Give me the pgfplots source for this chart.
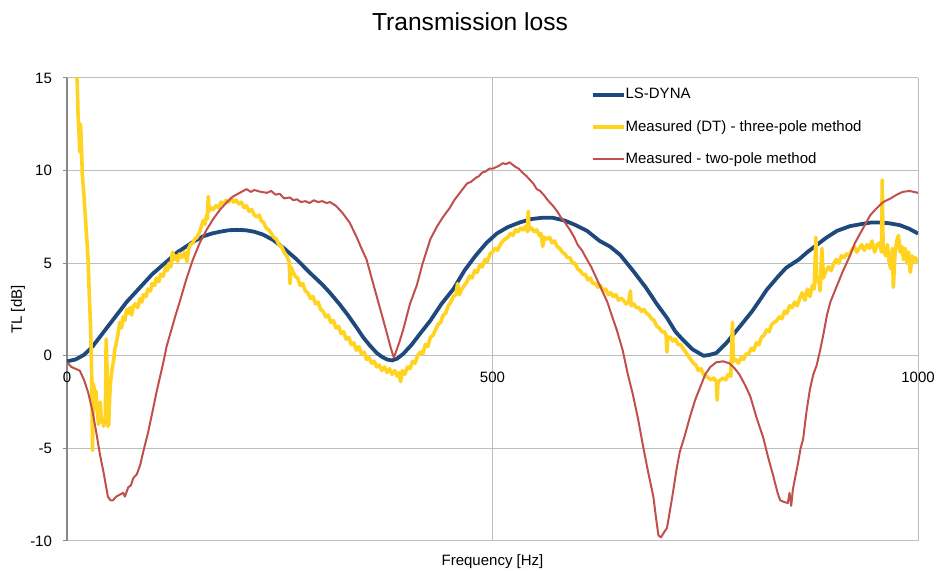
\documentclass[border=0pt]{standalone}
\usepackage{pgfplots}
\pgfplotsset{compat=1.18}
\usepackage{fontspec}
\setmainfont{Liberation Sans}
\definecolor{cblue}{HTML}{1F497D}
\definecolor{cyellow}{HTML}{FFD320}
\definecolor{cred}{HTML}{C0504D}
\definecolor{cgrid}{HTML}{BEBEBE}
\definecolor{caxis}{HTML}{888888}
\begin{document}
\begin{tikzpicture}
\path[use as bounding box] (-33.5pt,-15pt) rectangle (434.5pt,270.5pt);
\begin{axis}[
  at={(0pt,0pt)}, anchor=south west,
  scale only axis, width=425.5pt, height=231.5pt,
  xmin=0, xmax=1000, ymin=-10, ymax=15,
  xtick={0,500,1000}, ytick={-10,-5,0,5,10,15},
  axis x line=middle, axis y line=left,
  every inner x axis line/.append style={-},
  every outer y axis line/.append style={-},
  hide obscured x ticks=false, hide obscured y ticks=false,
  x axis line style={draw=cgrid, line width=0.5pt},
  y axis line style={draw=caxis, line width=0.6pt},
  grid=major, grid style={draw=cgrid, line width=0.5pt},
  xtick style={draw=none},
  ytick style={draw=caxis, line width=0.5pt},
  tick align=outside, major tick length=2pt,
  /pgf/number format/assume math mode=true,
  /pgf/number format/1000 sep={},
  ticklabel style={font=\fontsize{7.5}{9}\selectfont},
  xticklabel style={anchor=north, yshift=-2.5pt},
  yticklabel style={anchor=east, xshift=-2pt},
  title={Transmission loss},
  title style={font=\fontsize{12.3}{14}\selectfont, at={(0.4736,1)}, anchor=center, yshift=22pt},
  xlabel={Frequency [Hz]},
  xlabel style={font=\fontsize{7.5}{9}\selectfont, at={(axis description cs:0.5,0)}, anchor=center, yshift=-10.5pt},
  ylabel={TL [dB]},
  ylabel style={font=\fontsize{7.5}{9}\selectfont, at={(axis description cs:-0.0576,0.5)}, anchor=center},
  legend style={at={(0.615,0.985)}, anchor=north west, draw=none, fill=white,
    font=\fontsize{7.5}{9}\selectfont, row sep=8.2pt, inner xsep=0pt, inner ysep=1pt,
    nodes={inner xsep=0pt, inner ysep=0.5pt}},
  legend cell align=left,
  legend image code/.code={\draw[#1] (0pt,0pt) -- (15.5pt,0pt);},
  line join=round,
]
\addplot[cblue, line width=1.9pt] coordinates {
(0,-0.3) (10,-0.2) (20,0.05) (30,0.5) (40,1.1) (50,1.7) (60,2.3) (70,2.9) (80,3.4) (90,3.9)
(100,4.4) (110,4.8) (120,5.2) (130,5.6) (140,5.9) (150,6.2) (160,6.45) (170,6.6) (180,6.7) (190,6.78)
(200,6.8) (210,6.78) (220,6.7) (230,6.55) (242,6.26) (255,5.8) (270,5.2) (285,4.5) (300,3.85) (309,3.4)
(320,2.8) (330,2.2) (340,1.55) (348,1.0) (356,0.55) (364,0.15) (370,-0.05) (376,-0.2) (382,-0.25) (388,-0.15)
(395,0.1) (405,0.6) (415,1.2) (427,1.9) (440,2.8) (454,3.6) (467,4.6) (480,5.4) (493,6.1) (505,6.6)
(518,6.95) (532,7.2) (545,7.38) (558,7.45) (571,7.45) (585,7.3) (598,7.05) (611,6.75) (626,6.2) (638,5.9)
(650,5.45) (665,4.6) (680,3.7) (693,2.8) (705,2.05) (715,1.3) (724,0.85) (735,0.35) (748,0.0) (755,0.05)
(763,0.15) (775,0.7) (791,1.6) (805,2.4) (814,3.0) (822,3.55) (835,4.25) (845,4.75) (850,4.9) (860,5.2)
(870,5.6) (880,5.95) (893,6.4) (905,6.75) (920,7.0) (932,7.1) (945,7.2) (955,7.2) (967,7.15) (979,7.05)
(990,6.85) (1000,6.6)
};
\addlegendentry{LS-DYNA}
\addplot[cyellow, line width=1.8pt] coordinates {
(10,16) (12,14.8) (13,13.0) (14,12.2) (15,11.0) (16,12.5) (17,11.2) (18,9.8) (20,8.6) (22,7.2)
(24,5.8) (25,5.0) (26,3.5) (27,2.4) (28,1.0) (29,-1.0) (30,-5.1) (31,-1.5) (32,-1.8) (33,-2.2)
(34,-1.9) (35,-2.8) (36,-3.1) (37,-3.7) (38,-3.0) (39,-2.5) (40,-3.2) (41,-3.6) (42,-3.4) (43,-3.8)
(44,-3.5) (45,-3.6) (46,0.9) (47,-0.5) (48,-3.8) (49,-3.7) (50,-2.4) (51,-1.5) (52,-1.1) (53,-0.7)
(55,-0.2) (56,0.3) (58,0.7) (60,1.2) (62,1.8) (64,1.5) (66,2.1) (68,1.9) (70,2.5) (72,2.3)
(74,2.6) (76,2.2) (78,2.7) (80,2.8) (83,2.6) (86,3.1) (88,2.9) (90,3.3) (93,3.2) (95,3.6)
(98,3.5) (100,3.9) (103,3.8) (105,4.2) (108,4.0) (110,4.4) (113,4.3) (116,4.8) (118,4.6) (120,5.0)
(122,4.8) (124,5.6) (126,5.2) (128,5.4) (130,5.1) (132,5.5) (135,5.3) (138,5.6) (141,5.1) (143,5.8)
(145,6.0) (148,6.1) (150,6.3) (153,6.4) (156,6.7) (158,7.0) (160,7.3) (162,7.1) (164,7.6) (165,7.4)
(166,8.6) (167,7.8) (169,8.0) (172,7.9) (175,8.1) (178,8.0) (181,8.3) (184,8.2) (187,8.4) (190,8.3)
(193,8.5) (196,8.3) (199,8.4) (202,8.2) (205,8.3) (208,8.0) (211,8.1) (214,7.8) (217,7.9) (220,7.6)
(223,7.5) (226,7.6) (228,7.3) (231,7.2) (234,6.9) (237,6.8) (240,6.6) (243,6.4) (246,6.3) (249,6.0)
(252,5.9) (255,5.6) (258,5.4) (261,5.1) (262,3.9) (263,4.8) (265,4.6) (268,4.3) (271,4.2) (274,3.8)
(277,3.9) (280,3.5) (283,3.4) (286,3.1) (289,3.2) (292,2.8) (295,2.9) (298,2.5) (301,2.4) (304,2.1)
(307,2.2) (310,1.8) (313,1.9) (316,1.5) (319,1.6) (322,1.2) (325,1.3) (328,0.9) (331,1.0) (334,0.6)
(337,0.7) (340,0.3) (343,0.5) (346,0.1) (349,0.2) (352,-0.2) (355,-0.1) (358,-0.4) (361,-0.3) (364,-0.6)
(367,-0.5) (370,-0.8) (373,-0.6) (376,-0.9) (379,-0.7) (382,-1.0) (385,-0.8) (388,-1.1) (390,-0.9) (392,-1.4)
(394,-0.8) (397,-1.0) (400,-0.6) (403,-0.7) (406,-0.3) (409,-0.4) (412,0.0) (415,0.2) (418,0.1) (421,0.6)
(424,0.5) (427,1.0) (430,1.1) (433,1.4) (436,1.7) (439,1.8) (442,2.2) (445,2.3) (448,2.7) (451,2.9)
(454,3.2) (457,3.3) (459,3.9) (461,3.3) (464,3.6) (467,3.8) (470,4.0) (473,4.3) (476,4.2) (479,4.6)
(482,4.5) (485,4.9) (488,4.8) (491,5.2) (494,5.1) (497,5.5) (500,5.6) (503,5.8) (506,5.7) (509,6.0)
(512,6.2) (515,6.3) (518,6.4) (521,6.6) (524,6.5) (527,6.8) (530,6.7) (533,6.9) (536,6.8) (539,7.0)
(541,6.7) (542,7.8) (543,6.8) (546,6.9) (549,6.7) (552,6.8) (555,6.5) (557,6.6) (559,5.9) (561,6.4)
(564,6.3) (567,6.4) (570,6.1) (573,6.2) (576,5.9) (579,5.8) (582,5.6) (585,5.5) (588,5.3) (591,5.3)
(594,5.0) (597,5.0) (600,4.7) (603,4.6) (606,4.4) (609,4.4) (612,4.1) (615,4.2) (618,3.9) (621,3.9)
(624,3.7) (627,3.8) (630,3.5) (633,3.6) (636,3.3) (639,3.4) (642,3.2) (645,3.3) (648,3.0) (651,3.1)
(654,3.0) (657,2.8) (660,2.9) (662,3.5) (663,2.7) (666,2.8) (669,2.6) (672,2.6) (675,2.4) (678,2.5)
(681,2.3) (684,2.2) (687,2.0) (690,1.9) (693,1.6) (696,1.5) (699,1.3) (702,1.3) (704,1.1) (705,0.2)
(706,1.0) (709,1.0) (712,0.8) (715,0.9) (718,0.6) (721,0.6) (724,0.4) (727,0.2) (730,0.0) (733,-0.2)
(736,-0.4) (739,-0.5) (742,-0.8) (745,-0.7) (748,-1.0) (751,-1.1) (754,-1.2) (757,-1.3) (760,-1.2) (763,-1.4)
(764,-2.4) (765,-1.4) (768,-1.3) (771,-1.2) (774,-1.3) (777,-1.0) (780,-1.1) (782,1.8) (783,-0.3) (786,-0.2)
(789,-0.4) (792,-0.1) (795,-0.2) (798,0.1) (801,0.1) (804,0.4) (807,0.3) (810,0.7) (813,0.6) (816,1.0)
(819,1.1) (822,1.4) (825,1.3) (828,1.7) (831,1.8) (834,1.9) (837,2.1) (840,2.0) (843,2.4) (846,2.3)
(849,2.7) (852,2.6) (855,2.9) (858,2.7) (861,3.1) (864,3.4) (867,3.0) (870,3.6) (873,3.2) (876,3.8)
(878,3.6) (880,6.4) (881,4.0) (883,4.2) (885,3.5) (887,5.8) (889,4.2) (892,4.6) (895,4.8) (898,4.6)
(901,5.0) (904,5.2) (907,5.0) (910,5.4) (913,5.3) (916,5.5) (919,5.4) (922,5.7) (925,5.9) (928,5.6)
(931,5.8) (934,6.0) (937,5.7) (940,6.0) (943,5.8) (946,6.2) (949,5.6) (952,6.0) (955,6.1) (957,5.6)
(958,9.5) (959,5.8) (962,5.4) (964,6.0) (966,5.1) (968,4.7) (970,5.8) (971,3.7) (973,5.5) (975,6.2)
(977,6.5) (979,5.6) (981,5.9) (983,5.2) (985,5.8) (987,5.0) (989,5.6) (991,4.5) (993,5.4) (995,5.1)
(997,5.3) (1000,5.0)
};
\addlegendentry{Measured (DT) - three-pole method}
\addplot[cred, line width=1.0pt] coordinates {
(0,-0.35) (5,-0.6) (10,-0.7) (15,-0.8) (20,-1.3) (25,-2.0) (30,-3.0) (35,-4.3) (39,-5.4) (43,-6.3)
(48,-7.6) (51,-7.8) (54,-7.8) (58,-7.6) (62,-7.5) (66,-7.4) (68,-7.6) (72,-7.1) (75,-7.0) (78,-6.6)
(82,-6.4) (86,-5.9) (90,-5.1) (95,-4.2) (101,-2.9) (105,-2.0) (108,-1.4) (113,-0.4) (117,0.5) (122,1.3)
(127,2.1) (133,3.0) (140,4.1) (148,5.2) (156,6.1) (164,6.8) (172,7.4) (180,7.9) (188,8.3) (195,8.6)
(203,8.8) (211,9.0) (216,8.85) (220,8.95) (228,8.85) (235,8.8) (240,8.9) (245,8.7) (250,8.75) (255,8.5) (262,8.55)
(266,8.4) (270,8.45) (275,8.3) (280,8.35) (285,8.25) (290,8.4) (295,8.3) (300,8.35) (305,8.25) (309,8.3) (316,8.1)
(324,7.7) (332,7.2) (340,6.45) (346,5.8) (352,5.2) (358,4.2) (364,3.2) (370,2.2) (376,1.2) (380,0.5)
(384,-0.1) (388,0.4) (391,0.8) (395,1.4) (403,2.8) (411,3.8) (418,5.0) (427,6.3) (435,7.0) (442,7.5)
(450,8.0) (455,8.4) (460,8.7) (465,9.0) (470,9.3) (475,9.4) (480,9.6) (484,9.7) (488,9.9) (492,9.95) (496,10.1) (500,10.1)
(505,10.2) (509,10.3) (512,10.4) (516,10.35) (520,10.45) (524,10.3) (527,10.2) (531,10.1) (535,9.9) (540,9.7) (544,9.5) (548,9.3) (552,9.0)
(556,8.9) (560,8.7) (565,8.4) (571,8.1) (576,7.8) (580,7.5) (585,7.2) (591,6.8) (596,6.4) (600,6.0) (605,5.7)
(611,5.2) (616,4.8) (620,4.4) (626,3.8) (631,3.3) (635,2.9) (640,2.2) (646,1.4) (653,0.3) (659,-1.0)
(665,-2.1) (671,-3.4) (677,-4.9) (683,-6.3) (689,-7.6) (692,-8.7) (695,-9.7) (698,-9.8) (702,-9.5)
(705,-9.3) (708,-8.5) (712,-7.4) (716,-6.2) (720,-5.2) (726,-4.3) (732,-3.3) (738,-2.4) (744,-1.7)
(750,-1.0) (756,-0.6) (763,-0.35) (771,-0.3) (778,-0.4) (784,-0.65) (790,-1.0) (797,-1.6) (803,-2.2)
(810,-3.3) (818,-4.4) (824,-5.5) (830,-6.5) (835,-7.4) (838,-7.8) (843,-7.9) (847,-7.95) (849,-7.4)
(851,-8.1) (853,-7.2) (856,-6.5) (859,-5.8) (862,-5.0) (865,-4.5) (869,-3.0) (873,-1.8) (877,-1.0)
(881,-0.5) (885,0.3) (889,1.2) (893,2.2) (897,2.9) (904,3.7) (912,4.6) (920,5.4) (926,6.1) (932,6.6)
(938,7.1) (944,7.6) (950,7.9) (959,8.3) (968,8.5) (975,8.7) (982,8.85) (990,8.9) (1000,8.8)
};
\addlegendentry{Measured - two-pole method}
\end{axis}
\end{tikzpicture}
\end{document}
